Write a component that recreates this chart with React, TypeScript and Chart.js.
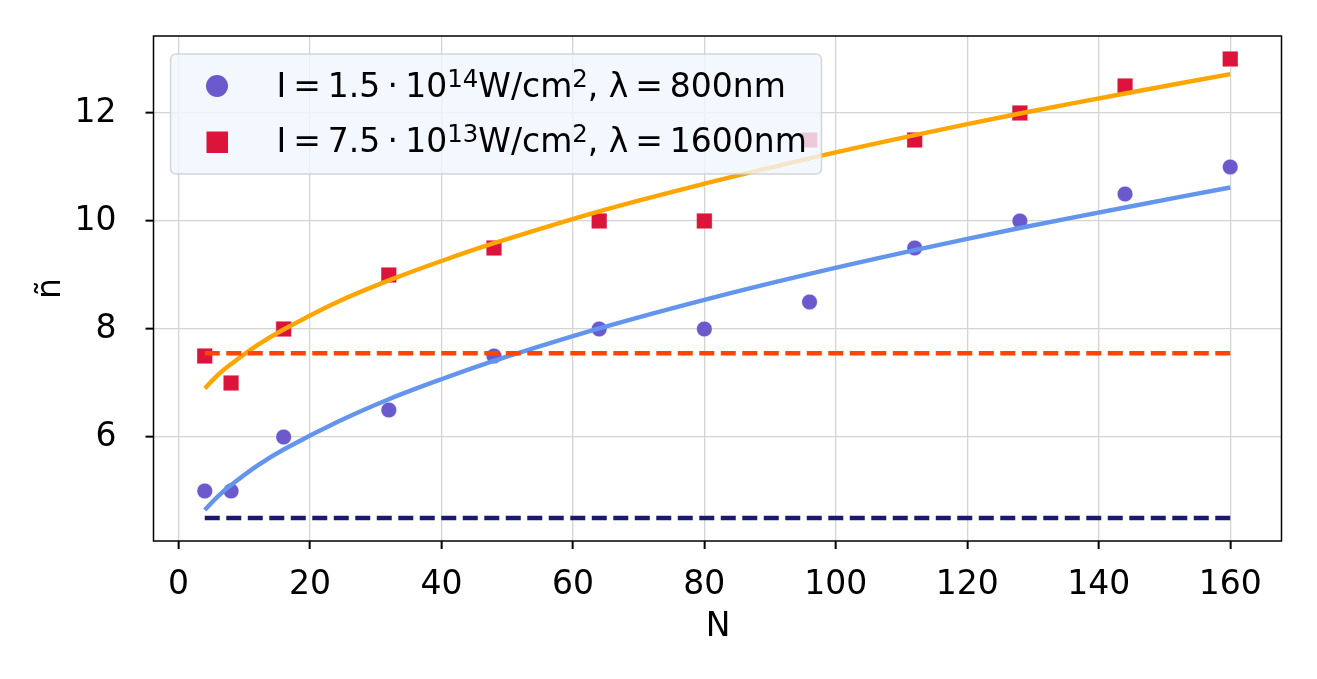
import React, { useEffect, useRef } from "react";
import { Chart, registerables } from "chart.js";

Chart.register(...registerables);

// ---- data ----
const N_VALUES = [4, 8, 16, 32, 48, 64, 80, 96, 112, 128, 144, 160];
const N_TILDE_800 = [5, 5, 6, 6.5, 7.5, 8, 8, 8.5, 9.5, 10, 10.5, 11];
const N_TILDE_1600 = [7.5, 7, 8, 9, 9.5, 10, 10, 11.5, 11.5, 12, 12.5, 13];

const FIT_N = [4, 6, 8, 12, 16, 24, 32, 40, 48, 64, 80, 96, 112, 128, 144, 160];
const FIT_800 = [4.65, 4.9, 5.11, 5.47, 5.77, 6.27, 6.7, 7.07, 7.41, 8.01, 8.54, 9.02, 9.46, 9.87, 10.25, 10.62];
const FIT_1600 = [6.9, 7.15, 7.35, 7.7, 7.99, 8.49, 8.9, 9.26, 9.59, 10.18, 10.69, 11.16, 11.59, 11.99, 12.36, 12.72];

const LEVEL_N = [4, 160];
const LEVEL_800 = [4.5, 4.5];
const LEVEL_1600 = [7.55, 7.55];

const X_MIN = -3.8;
const X_MAX = 167.8;
const Y_MIN = 4.075;
const Y_MAX = 13.425;
const X_STEP = 20;
const Y_STEP = 2;

const X_TITLE = "N";
const Y_TITLE = "ñ";

type Part = { text?: string; sup?: boolean; gap?: number };
const LEGEND_800: Part[] = [
  { text: "I" }, { gap: 0.21 }, { text: "=" }, { gap: 0.21 }, { text: "1.5" }, { gap: 0.22 },
  { text: "·" }, { gap: 0.22 }, { text: "10" }, { text: "14", sup: true }, { text: "W/cm" },
  { text: "2", sup: true }, { text: ", λ" }, { gap: 0.21 }, { text: "=" }, { gap: 0.21 }, { text: "800nm" },
];
const LEGEND_1600: Part[] = [
  { text: "I" }, { gap: 0.21 }, { text: "=" }, { gap: 0.21 }, { text: "7.5" }, { gap: 0.22 },
  { text: "·" }, { gap: 0.22 }, { text: "10" }, { text: "13", sup: true }, { text: "W/cm" },
  { text: "2", sup: true }, { text: ", λ" }, { gap: 0.21 }, { text: "=" }, { gap: 0.21 }, { text: "1600nm" },
];

const C_800_PT = "#6a5acd";
const C_1600_PT = "#dc143c";
const C_800_FIT = "#6495ed";
const C_1600_FIT = "#ffa500";
const C_800_LVL = "#191970";
const C_1600_LVL = "#ff4500";

const FONT = '"DejaVu Sans", "Liberation Sans", sans-serif';

function pts(xs: number[], ys: number[]) {
  return xs.map((x, i) => ({ x, y: ys[i] }));
}

function drawRich(ctx: CanvasRenderingContext2D, parts: Part[], x: number, baseline: number, size: number) {
  let cx = x;
  for (const p of parts) {
    if (p.gap !== undefined) {
      cx += p.gap * size;
      continue;
    }
    const fs = p.sup ? size * 0.74 : size;
    ctx.font = `${fs}px ${FONT}`;
    const y = p.sup ? baseline - size * 0.3 : baseline;
    ctx.fillText(p.text || "", cx, y);
    cx += ctx.measureText(p.text || "").width;
  }
}

const decorPlugin = {
  id: "decor",
  afterDraw(chart: any) {
    const { ctx, chartArea } = chart;
    const { left, right, top, bottom } = chartArea;
    ctx.save();
    // frame
    ctx.strokeStyle = "#000";
    ctx.lineWidth = 1.5;
    ctx.strokeRect(left, top, right - left, bottom - top);

    // axis titles
    ctx.fillStyle = "#000";
    ctx.font = `33px ${FONT}`;
    ctx.textAlign = "center";
    ctx.textBaseline = "alphabetic";
    ctx.fillText(X_TITLE, (left + right) / 2 + 0.5, 636);
    ctx.save();
    ctx.translate(60, (top + bottom) / 2);
    ctx.rotate(-Math.PI / 2);
    ctx.fillText(Y_TITLE, 0, 0);
    ctx.restore();

    // legend
    const lx = 170.5, ly = 54, lw = 651, lh = 120, r = 6;
    ctx.beginPath();
    ctx.moveTo(lx + r, ly);
    ctx.lineTo(lx + lw - r, ly);
    ctx.quadraticCurveTo(lx + lw, ly, lx + lw, ly + r);
    ctx.lineTo(lx + lw, ly + lh - r);
    ctx.quadraticCurveTo(lx + lw, ly + lh, lx + lw - r, ly + lh);
    ctx.lineTo(lx + r, ly + lh);
    ctx.quadraticCurveTo(lx, ly + lh, lx, ly + lh - r);
    ctx.lineTo(lx, ly + r);
    ctx.quadraticCurveTo(lx, ly, lx + r, ly);
    ctx.closePath();
    ctx.fillStyle = "rgba(240,246,254,0.8)";
    ctx.fill();
    ctx.strokeStyle = "rgba(204,204,204,0.8)";
    ctx.lineWidth = 1.5;
    ctx.stroke();

    ctx.fillStyle = C_800_PT;
    ctx.beginPath();
    ctx.arc(217, 86, 11, 0, Math.PI * 2);
    ctx.fill();
    ctx.fillStyle = C_1600_PT;
    ctx.fillRect(206.5, 131.5, 21.5, 21.5);

    ctx.fillStyle = "#000";
    ctx.textAlign = "left";
    ctx.textBaseline = "alphabetic";
    drawRich(ctx, LEGEND_800, 276.5, 97, 33);
    drawRich(ctx, LEGEND_1600, 276.5, 152, 33);
    ctx.restore();
  },
};

export default function App() {
  const ref = useRef<HTMLCanvasElement | null>(null);

  useEffect(() => {
    if (!ref.current) return;
    const chart = new Chart(ref.current, {
      type: "scatter",
      data: {
        datasets: [
          {
            label: "levels 1600",
            data: pts(LEVEL_N, LEVEL_1600),
            showLine: true,
            borderColor: C_1600_LVL,
            borderWidth: 4.4,
            borderDash: [15, 6.5],
            pointRadius: 0,
            order: 1,
          } as any,
          {
            label: "levels 800",
            data: pts(LEVEL_N, LEVEL_800),
            showLine: true,
            borderColor: C_800_LVL,
            borderWidth: 4.4,
            borderDash: [15, 6.5],
            pointRadius: 0,
            order: 1,
          },
          {
            label: "fit 1600",
            data: pts(FIT_N, FIT_1600),
            showLine: true,
            borderColor: C_1600_FIT,
            borderWidth: 4.4,
            pointRadius: 0,
            tension: 0.35,
            order: 2,
          },
          {
            label: "fit 800",
            data: pts(FIT_N, FIT_800),
            showLine: true,
            borderColor: C_800_FIT,
            borderWidth: 4.4,
            pointRadius: 0,
            tension: 0.35,
            order: 2,
          },
          {
            label: "800nm",
            data: pts(N_VALUES, N_TILDE_800),
            pointStyle: "circle",
            pointRadius: 7.8,
            backgroundColor: C_800_PT,
            borderColor: "rgba(255,255,255,0.6)",
            borderWidth: 0.6,
            order: 3,
          },
          {
            label: "1600nm",
            data: pts(N_VALUES, N_TILDE_1600),
            pointStyle: "rect",
            pointRadius: 11,
            backgroundColor: C_1600_PT,
            borderColor: "rgba(255,255,255,0.6)",
            borderWidth: 0.6,
            order: 3,
          },
        ],
      },
      options: {
        animation: false,
        responsive: false,
        devicePixelRatio: 1,
        layout: { padding: { left: 0, right: 35.5, top: 36, bottom: 0 } },
        plugins: { legend: { display: false }, tooltip: { enabled: false } },
        scales: {
          x: {
            type: "linear",
            min: X_MIN,
            max: X_MAX,
            border: { display: false },
            grid: { color: "#d4d4d4", lineWidth: 1.3, tickColor: "#000", tickLength: 8, tickWidth: 2 },
            ticks: {
              stepSize: X_STEP,
              includeBounds: false,
              color: "#000",
              padding: 17,
              font: { family: FONT, size: 33 },
              maxRotation: 0,
            },
            afterFit: (s: any) => {
              s.height = 138;
              s.paddingLeft = 0;
              s.paddingRight = 0;
            },
          },
          y: {
            type: "linear",
            min: Y_MIN,
            max: Y_MAX,
            border: { display: false },
            grid: { color: "#d4d4d4", lineWidth: 1.3, tickColor: "#000", tickLength: 8, tickWidth: 2 },
            ticks: {
              stepSize: Y_STEP,
              includeBounds: false,
              color: "#000",
              padding: 29,
              font: { family: FONT, size: 33 },
            },
            afterFit: (s: any) => {
              s.width = 153.5;
              s.paddingTop = 0;
              s.paddingBottom = 0;
            },
          },
        },
      },
      plugins: [decorPlugin],
    } as any);
    return () => chart.destroy();
  }, []);

  return (
    <div style={{ position: "fixed", left: 0, top: 0, width: 1317, height: 679, background: "#fff" }}>
      <canvas ref={ref} width={1317} height={679} style={{ width: 1317, height: 679, display: "block" }} />
    </div>
  );
}
